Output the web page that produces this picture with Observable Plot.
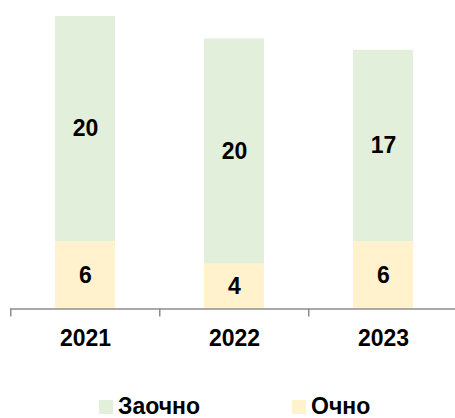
<!DOCTYPE html>
<html><head><meta charset="utf-8">
<script src="https://cdn.jsdelivr.net/npm/d3@7"></script>
<script src="https://cdn.jsdelivr.net/npm/@observablehq/plot@0.6"></script>
<style>
body{margin:0;background:#fff;font-family:"Liberation Sans",Arial,sans-serif;}
#chart svg{display:block}
.legend{height:23px;line-height:23px;font-size:23px;font-weight:bold;white-space:nowrap;padding-left:99px;color:#000;}
.item{display:inline-block;width:193px;}
.sw{display:inline-block;width:14px;height:14px;margin-right:5px;}
</style></head><body><div id="chart"></div><div class="legend" id="legend"></div>
<script>
const years = ["2021", "2022", "2023"];
const series = ["Очно", "Заочно"];
const ochno = [6, 4, 6];
const zaochno = [20, 20, 17];
const legendOrder = ["Заочно", "Очно"];
const colors = {"Заочно": "#E2EFDA", "Очно": "#FFF2CC"};

const rows = years.flatMap((y, i) => [
  {year: y, series: "Очно", value: ochno[i]},
  {year: y, series: "Заочно", value: zaochno[i]}
]);

const W = 455, H = 395;
const xRange = [10, 458.5];
const step = (xRange[1] - xRange[0]) / years.length;

const chart = Plot.plot({
  width: W, height: H,
  marginTop: 16, marginBottom: H - 308.5, marginLeft: 10, marginRight: 0,
  style: {fontFamily: "Liberation Sans, Arial, sans-serif", fontSize: "23px", fontWeight: "bold", color: "#000", background: "#fff"},
  x: {domain: years, range: xRange, paddingInner: 0.6, paddingOuter: 0.3, label: null},
  y: {domain: [0, 26], axis: null},
  color: {domain: legendOrder, range: legendOrder.map(s => colors[s])},
  marks: [
    Plot.barY(rows, {x: "year", y: "value", fill: "series"}),
    Plot.text(rows, Plot.stackY({x: "year", y: "value", z: "series", text: "value", fontSize: 23, fontWeight: "bold", fill: "#000"})),
    Plot.ruleY([0], {stroke: "#8c8c8c", strokeWidth: 1.5}),
    Plot.axisX({tickSize: 0, tickPadding: 21, label: null, fontSize: 23, fontWeight: "bold", fill: "#000"}),
    Plot.axisX({tickSize: 8, tickFormat: () => "", dx: -step / 2, stroke: "#8c8c8c", strokeWidth: 1.5, label: null})
  ]
});
document.getElementById("chart").appendChild(chart);

const legend = document.getElementById("legend");
for (const s of legendOrder) {
  const item = document.createElement("span");
  item.className = "item";
  const sw = document.createElement("span");
  sw.className = "sw";
  sw.style.background = colors[s];
  item.appendChild(sw);
  item.appendChild(document.createTextNode(s));
  legend.appendChild(item);
}
</script></body></html>
